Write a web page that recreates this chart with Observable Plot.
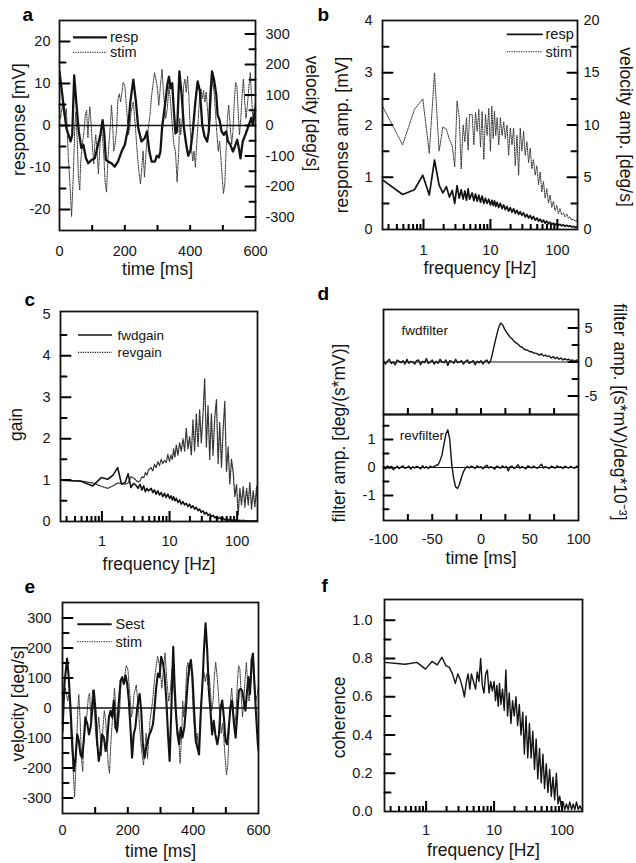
<!DOCTYPE html>
<html>
<head>
<meta charset="utf-8">
<script src="https://cdn.jsdelivr.net/npm/d3@7"></script>
<script src="https://cdn.jsdelivr.net/npm/@observablehq/plot@0.6"></script>
<style>
  body { margin: 0; background: #fff; }
  #fig { position: relative; width: 636px; height: 863px; background: #fff; overflow: hidden; }
</style>
</head>
<body>
<div id="fig"></div>
<script>
// ---------------- DATA ----------------
// Panels a / e: stimulus velocity (deg/s) vs time (ms)
const stimT = [0,3,9,16,21,27,32,37,42,47,50,54,58,62,65,70,75,79,83,87,90,93,97,101,105,108,111,115,119,124,128,132,136,140,144,148,152,156,159,162,166,170,175,179,183,187,191,195,200,203,207,211,215,219,226,232,236,240,244,248,252,256,260,264,268,272,277,282,287,291,
  299,304,309,314,319,325,330,335,340,345,350,355,360,365,368,371,376,380,384,388,392,396,400,404,408,412,416,420,425,429,433,437,441,445,449,453,457,461,465,469,474,478,482,486,490,494,498,502,506,510,514,518,522,527,531,535,539,543,547,551,555,559,563,567,571,576,580,584,588,592,596,600];
const stimV = [40,23,66,23,55,-105,-191,-298,-169,0,45,-40,-169,-212,-117,-62,-19,34,50,-40,23,61,2,-73,-126,-62,-30,-84,-159,-62,-9,-40,-105,-191,-218,-117,-51,2,66,23,-84,-62,-9,88,104,77,109,141,130,88,34,-30,-9,45,77,2,-62,-117,-159,-191,-137,-84,-169,-105,-40,-9,34,98,141,173,
  130,66,130,184,98,23,55,130,77,2,-62,-84,-185,-84,23,-30,23,130,152,109,162,98,-9,-73,-117,-84,-137,-62,23,98,120,88,114,77,109,55,-9,23,109,152,98,34,-30,-84,-51,-105,-169,-223,-191,-84,23,66,2,-62,-19,77,141,130,45,-30,23,98,152,77,23,77,130,173,88,23,45,77];
// Panel a: membrane response (mV)
const respT = [0,11,21,34,39,45,52,59,67,73,81,88,98,108,118,126,132,137,142,149,159,169,179,190,200,210,217,226,234,241,251,261,268,275,282,292,298,304,309,314,323,330,335,340,345,350,355,360,367,374,381,388,394,401,408,416,423,430,437,444,452,457,462,467,473,480,484,490,496,503,510,516,523,531,537,544,549,554,561,569,580,587,592,600];
const respV = [12.9,5.7,-0.6,-3.8,-2.2,11.9,4.9,-1.4,-5.4,-4.6,-7.8,-9,-8.2,-7.8,-4.6,-1.9,1.3,-1.9,-8.2,-8.6,-9,-9.8,-8.6,-6.2,-4.6,-0.6,5.7,10.9,5.7,-0.6,-3.8,-3,-1.4,-6.2,-8.6,-8.6,-7.2,-7.6,-6.2,-0.6,4.9,9.7,11.6,8.9,10.1,3.7,-1.9,-1.4,12.9,7.3,-0.6,-4.6,-7.2,-5.9,-1.4,5.7,10.5,8.1,0.2,-2.6,-3.8,-1.4,7.3,12.9,10.9,7.3,2.5,1.3,-1.4,-2.2,-1.4,-3.8,-4.6,-6.2,-5,-3.4,-5.4,-7.8,-3.8,-2.2,0.2,1.8,0.2,4.1];
// Panel e: estimated stimulus (deg/s)
const sestT = [0,6,14,19,25,30,35,40,45,50,55,60,65,70,76,81,86,91,96,101,106,111,116,121,127,132,137,142,147,152,157,162,167,172,178,183,188,193,198,203,208,213,218,223,229,236,241,246,251,256,261,266,271,277,282,287,292,297,302,308,312,318,323,328,333,339,343,347,352,357,362,367,373,378,383,388,393,398,403,408,413,418,424,429,433,438,443,448,453,458,463,468,474,479,484,489,494,499,504,509,514,519,525,530,535,540,545,550,555,560,565,569,574,579,583,588,593,598,600];
const sestV = [-80,81,165,103,-9,-121,-211,-166,-88,-110,-155,-166,-110,-31,-54,-88,-65,-9,58,-9,-110,-177,-144,-88,-99,-144,-110,-31,-9,-31,25,-65,-77,14,92,103,81,109,81,25,-65,-166,-88,-65,2,47,-9,-121,-166,-133,-110,-88,-77,-54,2,70,115,103,171,148,115,25,-88,-177,-9,204,81,-9,-88,-121,-65,-99,-65,2,81,137,160,103,-9,-110,-133,-155,2,92,193,283,193,58,-9,-88,-43,-88,-121,-88,2,25,-31,-110,-121,-65,2,25,-54,-99,-20,58,64,58,25,-9,58,103,47,160,182,70,-31,-121,-140];
// Panels b, c, f: frequency grid (Hz)
const freq = [0.244,0.488,0.732,0.977,1.22,1.46,1.71,1.95,2.20,2.44,2.69,2.93,3.17,3.42,3.66,3.91,4.15,4.39,4.64,4.88,
  5.34,5.65,5.99,6.34,6.71,7.10,7.52,7.96,8.43,8.92,9.45,10.0,10.5,11.0,11.5,12.0,12.6,13.3,14.1,14.9,
  15.8,16.7,17.7,18.7,19.8,21.0,22.2,23.5,24.9,26.4,27.9,29.5,31.3,33.1,35.1,37.1,39.3,41.6,44.0,46.6,
  49.4,52.3,55.3,58.6,62.0,65.7,69.5,73.6,77.9,82.5,87.3,92.4,97.9,103.6,109.7,116,123,130,138,146,154,163,173,183,194,200];
// b: response amplitude (mV)
const ampResp = [0.95,0.67,0.76,1.04,0.66,1.33,0.85,0.70,0.82,0.62,0.75,0.50,0.84,0.60,0.76,0.58,0.74,0.56,0.78,0.58,
  0.70,0.55,0.68,0.54,0.66,0.52,0.64,0.50,0.60,0.50,0.58,0.47,0.56,0.46,0.55,0.44,0.52,0.42,0.50,0.40,
  0.47,0.38,0.44,0.35,0.42,0.33,0.40,0.31,0.37,0.29,0.34,0.27,0.32,0.24,0.29,0.22,0.27,0.20,0.25,0.18,
  0.22,0.16,0.20,0.14,0.18,0.12,0.16,0.11,0.14,0.10,0.12,0.09,0.11,0.08,0.10,0.07,0.09,0.06,0.08,0.06,0.07,0.05,0.06,0.04,0.05,0.04];
// b: stimulus velocity amplitude (deg/s)
const ampStim = [11.8,8.1,11.5,12.5,7.3,15.0,7.5,9.8,9.6,8.6,8.0,6.0,12.3,10.7,5.8,10.0,8.4,10.7,7.6,11.0,
  11.0,8.1,11.2,9.4,11.5,7.9,11.3,6.7,11.0,9.0,11.6,7.5,11.8,8.7,11.3,9.0,10.7,8.1,10.7,9.0,
  10.3,8.7,10.0,7.1,9.7,8.1,9.7,6.1,9.0,5.2,9.7,7.5,9.4,7.1,8.4,6.4,7.8,5.8,6.7,5.2,
  6.1,4.3,5.5,3.6,4.6,3.0,3.9,2.55,3.3,2.1,2.7,1.8,2.3,1.5,2.0,1.4,1.6,1.2,1.5,1.1,1.2,0.9,1.0,0.8,0.85,0.7];
// c: forward and reverse gain
const gainFwd = [1.00,0.97,0.86,1.06,1.02,1.12,1.30,0.90,0.94,1.15,0.82,0.92,0.88,0.80,0.90,0.76,0.86,0.72,0.80,0.74,
  0.80,0.70,0.76,0.66,0.74,0.64,0.70,0.60,0.68,0.58,0.66,0.56,0.62,0.52,0.60,0.50,0.56,0.46,0.52,0.42,
  0.48,0.40,0.44,0.36,0.42,0.33,0.38,0.30,0.34,0.26,0.30,0.22,0.26,0.18,0.22,0.15,0.18,0.12,0.15,0.09,
  0.12,0.07,0.10,0.05,0.08,0.04,0.06,0.03,0.05,0.02,0.04,0.02,0.04,0.01,0.03,0.01,0.03,0.01,0.02,0.01,0.02,0.01,0.02,0.01,0.02,0.01];
const gainRev = [1.00,0.98,0.93,0.85,0.80,0.86,0.93,0.92,0.90,0.93,1.08,1.05,1.00,0.95,0.98,1.08,1.05,1.18,1.12,1.25,
  1.30,1.22,1.38,1.30,1.45,1.35,1.50,1.40,1.48,1.42,1.62,1.45,1.60,1.50,1.75,1.55,1.85,1.60,1.90,1.70,
  2.00,1.70,2.25,1.75,2.05,1.60,2.45,1.70,2.60,1.80,2.70,1.90,2.60,3.45,1.80,2.80,1.50,2.60,1.60,2.50,
  2.95,1.40,2.40,1.30,2.20,2.90,1.20,1.80,0.90,1.50,1.20,0.60,0.90,0.15,0.80,0.40,0.85,0.35,0.80,0.40,0.95,0.30,0.75,0.35,0.85,0.50];
// f: coherence
const coherence = [0.78,0.77,0.78,0.745,0.785,0.767,0.807,0.763,0.754,0.72,0.67,0.72,0.69,0.65,0.60,0.68,0.72,0.64,0.72,0.69,
  0.64,0.73,0.68,0.80,0.66,0.62,0.72,0.74,0.62,0.68,0.63,0.68,0.58,0.66,0.55,0.67,0.56,0.64,0.53,0.74,
  0.50,0.62,0.46,0.58,0.50,0.60,0.45,0.56,0.40,0.52,0.30,0.50,0.28,0.46,0.28,0.42,0.22,0.38,0.17,0.33,
  0.15,0.30,0.12,0.25,0.10,0.22,0.08,0.18,0.06,0.20,0.04,0.08,0.02,0.05,0.01,0.04,0.01,0.05,0.01,0.04,0.01,0.05,0.01,0.03,0.01,0.02];
// d: filters sampled every 2 ms from -100 to 100 ms
const filterT = d3.range(-100, 101, 2);
const fwdFilter = [0.2,-0.3,0.1,0.4,-0.2,0.0,-0.4,0.3,0.1,-0.1,0.2,-0.3,0.4,-0.2,0.1,0.0,-0.3,0.2,0.3,-0.4,0.1,-0.1,0.5,-0.2,0.0,0.3,-0.3,0.1,-0.2,0.4,0.0,-0.1,0.3,-0.5,0.2,0.1,-0.2,0.4,-0.1,0.0,0.2,-0.3,0.1,0.3,-0.2,0.0,0.2,-0.4,0.1,-0.1,
  0.2,-0.3,0.1,0.3,-0.2,0.2,1.4,2.7,3.9,5.0,5.7,
  5.5,4.9,4.4,4.0,3.6,3.4,3.0,2.8,2.6,2.3,2.2,1.9,1.8,1.7,1.5,1.5,1.3,1.3,1.2,1.0,1.2,0.9,1.0,0.8,0.9,0.6,0.8,0.5,0.7,0.4,0.6,0.3,0.5,0.3,0.4,0.2,0.3,0.1,0.3,0.1];
const revFilter = [0.03,-0.05,0.06,-0.02,0.04,-0.08,-0.03,0.05,-0.04,0.02,0.06,-0.03,0.00,0.05,-0.06,0.03,-0.02,0.04,0.01,-0.05,0.06,-0.02,0.03,-0.04,0.05,0.00,0.04,0.08,
  0.10,0.25,0.45,0.85,1.20,1.35,1.00,0.10,-0.40,-0.70,-0.75,-0.60,-0.35,-0.15,-0.03,
  0.04,-0.02,0.05,0.02,-0.04,0.06,0.00,0.03,-0.05,0.04,0.08,-0.02,0.03,0.00,-0.06,0.05,0.02,-0.03,0.06,-0.01,0.04,-0.12,0.03,0.05,-0.04,0.02,0.10,-0.03,0.04,0.00,-0.05,0.06,0.02,-0.02,0.05,0.00,-0.03,0.04,0.12,-0.02,0.03,0.00,-0.04,0.05,0.02,-0.03,0.06,0.00,0.03,-0.04,0.05,0.01,-0.02,0.04,0.00,-0.03,0.05,0.02];

// Tick values
const logMinorTicks = [0.3,0.4,0.5,0.6,0.7,0.8,0.9,2,3,4,5,6,7,8,9,20,30,40,50,60,70,80,90];
const logMajorTicks = [1,10,100];
const aLeftMinor = [-15,-5,5,15];
const aLeftLabels = [-20,-10,0,10,20];
const aRightMinor = [-250,-150,-50,50,150,250];
const aRightLabels = [-300,-200,-100,0,100,200,300];
const timeMinorTicks = [100,200,300,400,500];
const timeLabels = [0,200,400,600];
const bMinor = [0.5,1.5,2.5,3.5];
const bMajor = [1,2,3];
const bLeftLabels = [0,1,2,3,4];
const bRightLabels = [0,5,10,15,20];
const cMinor = [0.5,1.5,2.5,3.5,4.5];
const cMajor = [1,2,3,4];
const cLeftLabels = [0,1,2,3,4,5];
const dTopMinor = [-2.5,2.5];
const dTopRightLabels = [-5,0,5];
const dBotMinor = [-1.5,-0.5,0.5,1.5];
const dBotLeftLabels = [-1,0,1];
const dTimeTicks = [-75,-50,-25,0,25,50,75];
const dTimeLabels = [-100,-50,0,50,100];
const eMinor = [-250,-150,-50,50,150,250];
const eMajor = [-300,-200,-100,100,200,300];
const eLeftLabels = [-300,-200,-100,0,100,200,300];
const fMinor = [0.1,0.3,0.5,0.7,0.9];
const fMajor = [0.2,0.4,0.6,0.8,1.0];
const fLeftLabels = [0,0.2,0.4,0.6,0.8,1.0];

// ---------------- HELPERS ----------------
const INK = "#141414";
const FONT = '"Liberation Sans", Arial, Helvetica, sans-serif';
const baseStyle = {fontFamily: FONT, fontSize: "14.5px", background: "none", overflow: "visible", color: INK};
const DOT = "1.2,1.2";
const TICKC = "#000";
const tickShape = {draw(context, l) { context.moveTo(0, 0); context.lineTo(0, -l); }};
const fig = document.getElementById("fig");
function put(svg, left, top) {
  svg.style.position = "absolute";
  svg.style.left = left + "px";
  svg.style.top = top + "px";
  svg.style.maxWidth = "none";
  fig.appendChild(svg);
}
const rows = (xs, ys) => xs.map((x, i) => ({x, y: ys[i]}));
function title(text, anchor, dx, dy, rotate = 0) {
  return Plot.text([text], {text: d => d, frameAnchor: anchor, dx, dy, rotate, textAnchor: "middle", lineAnchor: "middle", fontSize: 17.5, fill: INK});
}
function letter(ch, dx, dy) {
  return Plot.text([ch], {text: d => d, frameAnchor: "top-left", dx, dy, textAnchor: "start", lineAnchor: "bottom", fontSize: 19, fontWeight: "bold", fill: "#000"});
}
function legendText(label, dx, dy, size = 14) {
  return Plot.text([label], {text: d => d, frameAnchor: "top-left", dx, dy, textAnchor: "start", lineAnchor: "middle", fontSize: size, fill: INK});
}
// legend swatch line (svg-local pixels)
function swatch(x1, x2, y, dashed, w) {
  return () => {
    const el = document.createElementNS("http://www.w3.org/2000/svg", "line");
    el.setAttribute("x1", x1); el.setAttribute("x2", x2);
    el.setAttribute("y1", y); el.setAttribute("y2", y);
    el.setAttribute("stroke", INK);
    el.setAttribute("stroke-width", w);
    if (dashed) el.setAttribute("stroke-dasharray", DOT);
    return el;
  };
}
// inward y ticks: short line vectors starting on the frame edge
function yTicks(ticks, side, size) {
  return Plot.vector(ticks, {y: d => d, frameAnchor: side, rotate: side === "left" ? 90 : -90, length: size, anchor: "start", shape: tickShape, stroke: TICKC, strokeWidth: 2});
}
// inward x ticks rising from the bottom frame edge (H = frame height)
function xTicks(ticks, size, H) {
  return Plot.tickX(ticks, {x: d => d, stroke: TICKC, strokeWidth: 2, insetTop: H - size});
}
const labelAxis = (fn, ticks, anchor, pad, fmt) => fn(ticks, {anchor, tickSize: 0, tickPadding: pad, tickFormat: fmt, label: null});
const logXAxes = (pad, H) => [
  xTicks(logMinorTicks, 5, H),
  xTicks(logMajorTicks, 10, H),
  labelAxis(Plot.axisX, logMajorTicks, "bottom", pad, d => String(d))
];

// ---------------- PANEL a ----------------
const kA = 25 / 344;
put(Plot.plot({
  width: 318, height: 290, marginLeft: 59, marginRight: 63, marginTop: 20, marginBottom: 60,
  style: baseStyle, x: {domain: [0, 600]}, y: {domain: [-25, 25]},
  marks: [
    Plot.line(rows(stimT, stimV), {x: "x", y: d => d.y * kA, stroke: "#333", strokeWidth: 1, strokeDasharray: DOT, clip: true}),
    Plot.line(rows(respT, respV), {x: "x", y: "y", stroke: INK, strokeWidth: 2.3, clip: true}),
    Plot.ruleY([0], {stroke: INK, strokeWidth: 1.6}),
    Plot.frame({stroke: INK, strokeWidth: 1.8}),
    yTicks(aLeftMinor, "left", 6), yTicks(aLeftLabels, "left", 10),
    labelAxis(Plot.axisY, aLeftLabels, "left", 9, d => String(d)),
    yTicks(aRightMinor.map(v => v * kA), "right", 6), yTicks(aRightLabels.map(v => v * kA), "right", 10),
    labelAxis(Plot.axisY, aRightLabels.map(v => v * kA), "right", 10, d => String(Math.round(d / kA))),
    xTicks(timeMinorTicks, 5, 210),
    labelAxis(Plot.axisX, timeLabels, "bottom", 15, d => String(d)),
    title("time [ms]", "bottom", 0, 39),
    title("response [mV]", "left", -40, -6, -90),
    title("velocity [deg/s]", "right", 56, -12, 90),
    letter("a", -37, 0),
    swatch(73, 107, 37.3, false, 2.2), swatch(73, 107, 52.3, true, 1),
    legendText("resp", 50.5, 17.3, 14.5), legendText("stim", 50.5, 32.3, 14.5)
  ]
}), 0, 0);

// ---------------- PANEL b ----------------
const kB = 0.2;
put(Plot.plot({
  width: 318, height: 290, marginLeft: 64, marginRight: 59, marginTop: 20, marginBottom: 61,
  style: baseStyle, x: {type: "log", domain: [0.244, 200]}, y: {domain: [0, 4]},
  marks: [
    Plot.line(rows(freq, ampStim), {x: "x", y: d => d.y * kB, stroke: "#333", strokeWidth: 1, strokeDasharray: DOT, clip: true}),
    Plot.line(rows(freq, ampResp), {x: "x", y: "y", stroke: INK, strokeWidth: 1.7, clip: true}),
    Plot.frame({stroke: INK, strokeWidth: 1.8}),
    yTicks(bMinor, "left", 6), yTicks(bMajor, "left", 10),
    labelAxis(Plot.axisY, bLeftLabels, "left", 10, d => String(d)),
    yTicks(bMinor, "right", 6), yTicks(bMajor, "right", 10),
    labelAxis(Plot.axisY, bRightLabels.map(v => v * kB), "right", 6, d => String(Math.round(d / kB))),
    ...logXAxes(15, 209),
    title("frequency [Hz]", "bottom", 0, 39),
    title("response amp. [mV]", "left", -40, 10, -90),
    title("velocity amp. [deg/s]", "right", 48, 2, 90),
    letter("b", -65, 0.5),
    swatch(188.7, 224.7, 34.3, false, 1.7), swatch(188.7, 224.7, 51.7, true, 1),
    legendText("resp", 163, 14.3, 14.5), legendText("stim", 163, 31.7, 14.5)
  ]
}), 318, 0);

// ---------------- PANEL c ----------------
put(Plot.plot({
  width: 318, height: 290, marginLeft: 60, marginRight: 61, marginTop: 21, marginBottom: 59,
  style: baseStyle, x: {type: "log", domain: [0.244, 200]}, y: {domain: [0, 5.07]},
  marks: [
    Plot.line(rows(freq, gainRev), {x: "x", y: "y", stroke: "#333", strokeWidth: 1.3, strokeDasharray: DOT, clip: true}),
    Plot.line(rows(freq, gainFwd), {x: "x", y: "y", stroke: INK, strokeWidth: 1.6, clip: true}),
    Plot.frame({stroke: INK, strokeWidth: 1.8}),
    yTicks(cMinor, "left", 6), yTicks(cMajor, "left", 10),
    labelAxis(Plot.axisY, cLeftLabels, "left", 10, d => String(d)),
    ...logXAxes(14, 210),
    title("frequency [Hz]", "bottom", 0, 43),
    title("gain", "left", -44, 8, -90),
    letter("c", -36, -6),
    swatch(78, 112, 45, false, 1.6), swatch(78, 112, 62.3, true, 1.2),
    legendText("fwdgain", 57, 24, 13.5), legendText("revgain", 57, 41.3, 13.5)
  ]
}), 0, 290);

// ---------------- PANEL d (top: forward filter) ----------------
put(Plot.plot({
  width: 318, height: 125, marginLeft: 65, marginRight: 58, marginTop: 19, marginBottom: 1,
  style: baseStyle, x: {domain: [-100, 100], axis: null}, y: {domain: [-7.7, 7.7]},
  marks: [
    Plot.ruleY([0], {stroke: INK, strokeWidth: 1}),
    Plot.line(rows(filterT, fwdFilter), {x: "x", y: "y", stroke: INK, strokeWidth: 1.4, clip: true}),
    Plot.frame({stroke: INK, strokeWidth: 1.8}),
    yTicks(dTopMinor, "right", 6), yTicks(dTopRightLabels, "right", 10),
    labelAxis(Plot.axisY, dTopRightLabels, "right", 6, d => String(d)),
    xTicks(dTimeTicks, 6, 105),
    title("filter amp. [(s*mV)/deg*10\u207B\u00B3]", "right", 41, 50, 90),
    legendText("fwdfilter", 18, 21, 13.5),
    letter("d", -66, -10)
  ]
}), 318, 290);

// ---------------- PANEL d (bottom: reverse filter) ----------------
put(Plot.plot({
  width: 318, height: 167, marginLeft: 65, marginRight: 58, marginTop: 1, marginBottom: 60,
  style: baseStyle, x: {domain: [-100, 100]}, y: {domain: [-1.9, 1.9]},
  marks: [
    Plot.ruleY([0], {stroke: INK, strokeWidth: 1}),
    Plot.line(rows(filterT, revFilter), {x: "x", y: "y", stroke: INK, strokeWidth: 1.4, clip: true}),
    Plot.frame({stroke: INK, strokeWidth: 1.8}),
    yTicks(dBotMinor, "left", 5), yTicks(dBotLeftLabels, "left", 9),
    labelAxis(Plot.axisY, dBotLeftLabels, "left", 8, d => String(d)),
    xTicks(dTimeTicks, 6, 106),
    labelAxis(Plot.axisX, dTimeLabels, "bottom", 13, d => String(d)),
    title("time [ms]", "bottom", 0, 38),
    title("filter amp. [deg/(s*mV)]", "left", -44.5, -34.5, -90),
    legendText("revfilter", 16.3, 21, 13.5)
  ]
}), 318, 413);

// ---------------- PANEL e ----------------
put(Plot.plot({
  width: 318, height: 283, marginLeft: 62, marginRight: 60, marginTop: 22, marginBottom: 50,
  style: baseStyle, x: {domain: [0, 600]}, y: {domain: [-352, 352]},
  marks: [
    Plot.line(rows(stimT, stimV), {x: "x", y: "y", stroke: "#333", strokeWidth: 1, strokeDasharray: DOT, clip: true}),
    Plot.line(rows(sestT, sestV), {x: "x", y: "y", stroke: INK, strokeWidth: 2.1, clip: true}),
    Plot.ruleY([0], {stroke: INK, strokeWidth: 1.6}),
    Plot.frame({stroke: INK, strokeWidth: 1.8}),
    yTicks(eMinor, "left", 6), yTicks(eMajor, "left", 10),
    labelAxis(Plot.axisY, eLeftLabels, "left", 11, d => String(d)),
    xTicks(timeMinorTicks, 6, 211),
    labelAxis(Plot.axisX, timeLabels, "bottom", 11, d => String(d)),
    title("time [ms]", "bottom", 0, 37.5),
    title("velocity [deg/s]", "left", -44.5, -4.5, -90),
    letter("e", -38, -10),
    swatch(77.3, 111.7, 44.3, false, 2.1), swatch(77.3, 111.7, 61.7, true, 1),
    legendText("Sest", 53, 22.3, 14.5), legendText("stim", 53, 39.7, 14.5)
  ]
}), 0, 580);

// ---------------- PANEL f ----------------
put(Plot.plot({
  width: 318, height: 283, marginLeft: 66, marginRight: 54, marginTop: 19, marginBottom: 52,
  style: baseStyle, x: {type: "log", domain: [0.244, 200]}, y: {domain: [0, 1.109]},
  marks: [
    Plot.line(rows(freq, coherence), {x: "x", y: "y", stroke: INK, strokeWidth: 1.4, clip: true}),
    Plot.frame({stroke: INK, strokeWidth: 1.8}),
    yTicks(fMinor, "left", 6), yTicks(fMajor, "left", 10),
    labelAxis(Plot.axisY, fLeftLabels, "left", 12, d3.format(".1f")),
    ...logXAxes(13, 212),
    title("frequency [Hz]", "bottom", 0, 38.5),
    title("coherence", "left", -45, 12, -90),
    letter("f", -63, -8)
  ]
}), 318, 580);
</script>
</body>
</html>
